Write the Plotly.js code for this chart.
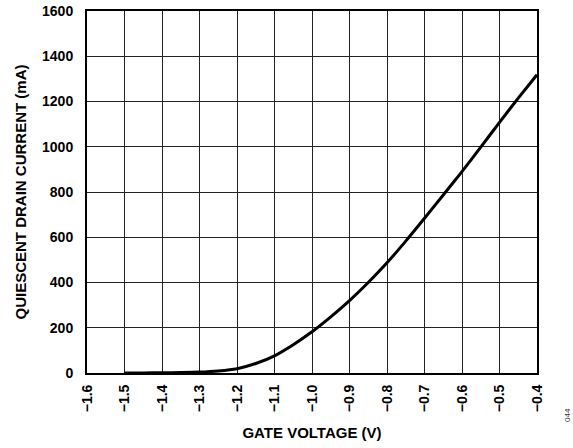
<!DOCTYPE html>
<html>
<head>
<meta charset="utf-8">
<script src="https://cdn.plot.ly/plotly-3.0.1.min.js"></script>
<style>html,body{margin:0;padding:0;background:#fff;}#chart{width:573px;height:448px;}</style>
</head>
<body>
<div id="chart"></div>
<script>
var gateVoltage = [-1.5, -1.45, -1.4, -1.35, -1.3, -1.25, -1.2, -1.15, -1.1, -1.05, -1.0, -0.95, -0.9, -0.85, -0.8, -0.75, -0.7, -0.65, -0.6, -0.55, -0.5, -0.45, -0.4];
var drainCurrent = [0, 0.5, 1, 2, 4, 9, 19, 42, 76, 125, 182, 248, 320, 400, 487, 583, 684, 787, 890, 998, 1108, 1215, 1318];
var xTicks = [-1.6, -1.5, -1.4, -1.3, -1.2, -1.1, -1.0, -0.9, -0.8, -0.7, -0.6, -0.5, -0.4];
var xTickText = ['\u22121.6','\u22121.5','\u22121.4','\u22121.3','\u22121.2','\u22121.1','\u22121.0','\u22120.9','\u22120.8','\u22120.7','\u22120.6','\u22120.5','\u22120.4'];
var yTicks = [0, 200, 400, 600, 800, 1000, 1200, 1400, 1600];

var fontFam = '"Liberation Sans", Arial, sans-serif';
var trace = {
  x: gateVoltage, y: drainCurrent, type: 'scatter', mode: 'lines',
  line: {color: '#000', width: 3, shape: 'spline', smoothing: 0.6},
  hoverinfo: 'skip'
};
var layout = {
  width: 573, height: 448,
  margin: {l: 87, r: 36, t: 11, b: 75},
  paper_bgcolor: '#fff', plot_bgcolor: '#fff',
  showlegend: false,
  font: {family: fontFam, color: '#000'},
  xaxis: {
    range: [-1.6, -0.4], tickvals: xTicks, ticktext: xTickText, tickangle: -90,
    tickfont: {family: fontFam, size: 14, color: '#000', weight: 'bold'},
    showgrid: true, gridcolor: '#222', gridwidth: 1,
    showline: true, linecolor: '#000', linewidth: 2, mirror: true,
    zeroline: false, ticks: '', ticklabelstandoff: 4,
    title: {text: '<b>GATE VOLTAGE (V)</b>', font: {family: fontFam, size: 15, color: '#000'}, standoff: 16}
  },
  yaxis: {
    range: [0, 1600], tickvals: yTicks,
    tickfont: {family: fontFam, size: 14, color: '#000', weight: 'bold'},
    showgrid: true, gridcolor: '#222', gridwidth: 1,
    showline: true, linecolor: '#000', linewidth: 2, mirror: true,
    zeroline: false, ticks: '', ticklabelstandoff: 9,
    title: {text: '<b>QUIESCENT DRAIN CURRENT (mA)</b>', font: {family: fontFam, size: 15, color: '#000'}, standoff: 12}
  },
  annotations: [{
    text: '044', xref: 'paper', yref: 'paper', x: 1, y: 0, xanchor: 'center', yanchor: 'middle',
    xshift: 30, yshift: -42, textangle: -90, showarrow: false,
    font: {family: fontFam, size: 8, color: '#333'}
  }]
};
Plotly.newPlot('chart', [trace], layout, {displayModeBar: false, staticPlot: true});
</script>
</body>
</html>
